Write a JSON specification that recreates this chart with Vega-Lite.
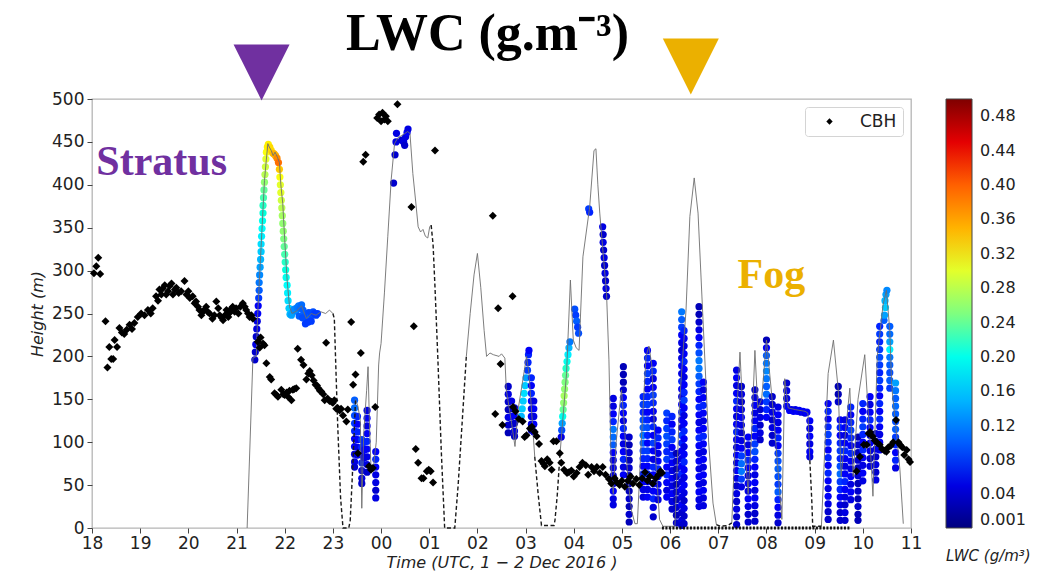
{
  "$schema": "https://vega.github.io/schema/vega-lite/v6.json",
  "width": 819,
  "height": 429,
  "autosize": "none",
  "padding": {"left": 92, "top": 99, "right": 138, "bottom": 43},
  "background": "white",
  "title": {
    "text": "LWC (g.m⁻³)",
    "font": "Liberation Serif",
    "fontSize": 52,
    "fontWeight": "bold",
    "color": "#000000",
    "frame": "group",
    "anchor": "middle",
    "baseline": "alphabetic",
    "dx": -14,
    "offset": -64
  },
  "config": {
    "font": "DejaVu Sans",
    "view": {"stroke": "#b5b5b5", "strokeWidth": 1.3},
    "axis": {"grid": false, "domain": false, "tickColor": "#444444", "labelColor": "#222222", "titleColor": "#222222", "labelFont": "DejaVu Sans", "titleFont": "DejaVu Sans"}
  },
  "datasets": {
    "cbh": [
      {"t":18.04,"h":297},{"t":18.09,"h":305},{"t":18.13,"h":315},{"t":18.17,"h":296},{"t":18.28,"h":241},{"t":18.32,"h":187},{"t":18.36,"h":211},{"t":18.4,"h":197},{"t":18.44,"h":197},{"t":18.47,"h":219},{"t":18.52,"h":211},{"t":18.57,"h":233},{"t":18.62,"h":228},{"t":18.67,"h":226},{"t":18.72,"h":231},{"t":18.78,"h":237},{"t":18.83,"h":232},{"t":18.88,"h":239},{"t":18.95,"h":246},{"t":19.02,"h":250},{"t":19.09,"h":248},{"t":19.16,"h":254},{"t":19.22,"h":250},{"t":19.26,"h":256},{"t":19.33,"h":270},{"t":19.37,"h":265},{"t":19.4,"h":278},{"t":19.44,"h":272},{"t":19.47,"h":279},{"t":19.51,"h":283},{"t":19.54,"h":272},{"t":19.58,"h":276},{"t":19.61,"h":282},{"t":19.65,"h":285},{"t":19.68,"h":272},{"t":19.72,"h":278},{"t":19.75,"h":280},{"t":19.8,"h":274},{"t":19.85,"h":276},{"t":19.92,"h":288},{"t":19.96,"h":272},{"t":20.0,"h":276},{"t":20.03,"h":268},{"t":20.09,"h":270},{"t":20.13,"h":262},{"t":20.16,"h":264},{"t":20.2,"h":258},{"t":20.23,"h":254},{"t":20.27,"h":248},{"t":20.3,"h":252},{"t":20.33,"h":254},{"t":20.37,"h":258},{"t":20.4,"h":252},{"t":20.44,"h":250},{"t":20.5,"h":244},{"t":20.54,"h":248},{"t":20.58,"h":264},{"t":20.62,"h":256},{"t":20.65,"h":248},{"t":20.69,"h":245},{"t":20.72,"h":242},{"t":20.76,"h":248},{"t":20.79,"h":254},{"t":20.83,"h":246},{"t":20.86,"h":251},{"t":20.9,"h":256},{"t":20.92,"h":258},{"t":20.96,"h":252},{"t":20.99,"h":256},{"t":21.04,"h":250},{"t":21.08,"h":258},{"t":21.13,"h":262},{"t":21.17,"h":258},{"t":21.2,"h":254},{"t":21.24,"h":250},{"t":21.27,"h":246},{"t":21.31,"h":248},{"t":21.34,"h":244},
      {"t":21.44,"h":217},{"t":21.48,"h":210},{"t":21.5,"h":222},{"t":21.55,"h":215},{"t":21.58,"h":213},{"t":21.62,"h":192},{"t":21.69,"h":176},{"t":21.72,"h":173},{"t":21.79,"h":157},{"t":21.83,"h":155},{"t":21.86,"h":153},{"t":21.93,"h":161},{"t":21.97,"h":156},{"t":22.0,"h":155},{"t":22.04,"h":158},{"t":22.07,"h":153},{"t":22.1,"h":160},{"t":22.14,"h":149},{"t":22.17,"h":161},{"t":22.2,"h":162},{"t":22.24,"h":163},{"t":22.27,"h":209},{"t":22.34,"h":196},{"t":22.39,"h":190},{"t":22.45,"h":173},{"t":22.49,"h":180},{"t":22.52,"h":183},{"t":22.56,"h":178},{"t":22.6,"h":172},{"t":22.64,"h":167},{"t":22.67,"h":166},{"t":22.7,"h":163},{"t":22.73,"h":160},{"t":22.76,"h":159},{"t":22.8,"h":156},{"t":22.83,"h":149},{"t":22.86,"h":216},{"t":22.89,"h":151},{"t":22.93,"h":148},{"t":22.97,"h":147},{"t":23.0,"h":146},{"t":23.03,"h":149},{"t":23.07,"h":139},{"t":23.1,"h":140},{"t":23.14,"h":137},{"t":23.17,"h":139},{"t":23.21,"h":131},{"t":23.28,"h":124},{"t":23.31,"h":138},
      {"t":23.38,"h":240},{"t":23.42,"h":167},{"t":23.47,"h":179},{"t":23.52,"h":87},{"t":23.58,"h":204},{"t":23.63,"h":427},{"t":23.68,"h":435},{"t":23.75,"h":72},{"t":23.79,"h":68},{"t":23.83,"h":70},{"t":23.88,"h":141},{"t":23.92,"h":478},{"t":23.96,"h":482},{"t":24.0,"h":474},{"t":24.03,"h":484},{"t":24.07,"h":476},{"t":24.1,"h":480},{"t":24.14,"h":474},{"t":24.34,"h":494},{"t":24.63,"h":374},{"t":24.68,"h":235},{"t":24.72,"h":92},{"t":24.77,"h":76},{"t":24.84,"h":58},{"t":24.88,"h":58},{"t":24.95,"h":66},{"t":24.99,"h":68},{"t":25.03,"h":66},{"t":25.08,"h":53},{"t":25.12,"h":440},
      {"t":26.32,"h":364},{"t":26.37,"h":133},{"t":26.43,"h":256},{"t":26.48,"h":191},{"t":26.52,"h":120},{"t":26.73,"h":270},{"t":26.74,"h":141},{"t":26.79,"h":136},{"t":26.86,"h":127},{"t":26.94,"h":124},{"t":26.98,"h":106},{"t":27.02,"h":108},{"t":27.09,"h":116},{"t":27.13,"h":118},{"t":27.19,"h":112},{"t":27.23,"h":107},{"t":27.28,"h":98},{"t":27.33,"h":78},{"t":27.37,"h":75},{"t":27.4,"h":72},{"t":27.45,"h":80},{"t":27.5,"h":76},{"t":27.54,"h":68},{"t":27.58,"h":101},{"t":27.64,"h":101},{"t":27.71,"h":87},{"t":27.74,"h":76},{"t":27.8,"h":68},{"t":27.86,"h":64},{"t":27.9,"h":65},{"t":27.95,"h":67},{"t":28.0,"h":60},{"t":28.06,"h":64},{"t":28.12,"h":71},{"t":28.18,"h":76},{"t":28.25,"h":73},{"t":28.3,"h":62},{"t":28.37,"h":71},{"t":28.42,"h":66},{"t":28.48,"h":71},{"t":28.54,"h":64},{"t":28.6,"h":71},{"t":28.66,"h":62},{"t":28.73,"h":57},{"t":28.78,"h":52},{"t":28.85,"h":58},{"t":28.9,"h":53},{"t":28.95,"h":50},{"t":29.0,"h":55},{"t":29.06,"h":48},{"t":29.12,"h":55},{"t":29.18,"h":60},{"t":29.23,"h":52},{"t":29.3,"h":57},{"t":29.36,"h":50},{"t":29.42,"h":58},{"t":29.48,"h":65},{"t":29.53,"h":55},{"t":29.58,"h":60},{"t":29.64,"h":52},{"t":29.7,"h":58},{"t":29.76,"h":62},{"t":29.8,"h":66},{"t":29.83,"h":64},
      {"t":33.87,"h":66},{"t":33.94,"h":83},{"t":34.02,"h":97},{"t":34.08,"h":97},{"t":34.12,"h":110},{"t":34.15,"h":112},{"t":34.2,"h":107},{"t":34.25,"h":102},{"t":34.3,"h":99},{"t":34.35,"h":97},{"t":34.4,"h":92},{"t":34.45,"h":90},{"t":34.49,"h":89},{"t":34.53,"h":94},{"t":34.58,"h":96},{"t":34.63,"h":100},{"t":34.69,"h":126},{"t":34.74,"h":100},{"t":34.77,"h":97},{"t":34.82,"h":94},{"t":34.86,"h":85},{"t":34.91,"h":91},{"t":34.95,"h":80},{"t":34.98,"h":77}
    ],
    "topSolid": [
      {"s":1,"t":21.22,"h":0},{"s":1,"t":21.34,"h":198},{"s":1,"t":21.41,"h":200},{"s":1,"t":21.44,"h":250},{"s":1,"t":21.51,"h":328},{"s":1,"t":21.58,"h":405},{"s":1,"t":21.62,"h":430},{"s":1,"t":21.65,"h":448},{"s":1,"t":21.68,"h":444},{"s":1,"t":21.72,"h":440},{"s":1,"t":21.76,"h":434},{"s":1,"t":21.8,"h":438},{"s":1,"t":21.85,"h":432},{"s":1,"t":21.89,"h":426},{"s":1,"t":21.92,"h":400},{"s":1,"t":21.96,"h":378},{"s":1,"t":22.0,"h":336},{"s":1,"t":22.05,"h":289},{"s":1,"t":22.1,"h":258},{"s":1,"t":22.15,"h":250},{"s":1,"t":22.25,"h":253},{"s":1,"t":22.35,"h":259},{"s":1,"t":22.45,"h":244},{"s":1,"t":22.55,"h":250},{"s":1,"t":22.65,"h":248},{"s":1,"t":22.75,"h":252},{"s":1,"t":22.85,"h":250},{"s":1,"t":22.93,"h":254},{"s":1,"t":23.0,"h":250},
      {"s":3,"t":23.47,"h":150},{"s":3,"t":23.52,"h":142},{"s":3,"t":23.57,"h":125},{"s":3,"t":23.6,"h":23},{"s":3,"t":23.64,"h":110},{"s":3,"t":23.7,"h":160},{"s":3,"t":23.73,"h":188},{"s":3,"t":23.76,"h":120},{"s":3,"t":23.79,"h":72},{"s":3,"t":23.84,"h":70},{"s":3,"t":23.9,"h":100},{"s":3,"t":23.95,"h":190},{"s":3,"t":23.97,"h":204},{"s":3,"t":24.0,"h":215},{"s":3,"t":24.07,"h":274},{"s":3,"t":24.14,"h":340},{"s":3,"t":24.21,"h":406},{"s":3,"t":24.28,"h":448},{"s":3,"t":24.35,"h":455},{"s":3,"t":24.45,"h":458},{"s":3,"t":24.55,"h":462},{"s":3,"t":24.6,"h":460},{"s":3,"t":24.66,"h":413},{"s":3,"t":24.72,"h":380},{"s":3,"t":24.77,"h":351},{"s":3,"t":24.82,"h":345},{"s":3,"t":24.87,"h":348},{"s":3,"t":24.92,"h":340},{"s":3,"t":24.97,"h":338},{"s":3,"t":25.01,"h":351},{"s":3,"t":25.04,"h":353},
      {"s":5,"t":25.77,"h":200},{"s":5,"t":25.85,"h":250},{"s":5,"t":25.93,"h":295},{"s":5,"t":26.0,"h":320},{"s":5,"t":26.07,"h":280},{"s":5,"t":26.14,"h":230},{"s":5,"t":26.19,"h":200},{"s":5,"t":26.26,"h":204},{"s":5,"t":26.33,"h":202},{"s":5,"t":26.45,"h":200},{"s":5,"t":26.5,"h":203},{"s":5,"t":26.57,"h":198},{"s":5,"t":26.6,"h":161},{"s":5,"t":26.71,"h":122},{"s":5,"t":26.78,"h":95},{"s":5,"t":26.85,"h":140},{"s":5,"t":26.95,"h":175},{"s":5,"t":27.02,"h":200},{"s":5,"t":27.07,"h":180},{"s":5,"t":27.12,"h":140},{"s":5,"t":27.19,"h":83},
      {"s":7,"t":27.71,"h":83},{"s":7,"t":27.85,"h":180},{"s":7,"t":27.93,"h":289},{"s":7,"t":27.99,"h":219},{"s":7,"t":28.05,"h":210},{"s":7,"t":28.11,"h":207},{"s":7,"t":28.19,"h":316},{"s":7,"t":28.33,"h":374},{"s":7,"t":28.42,"h":440},{"s":7,"t":28.46,"h":442},{"s":7,"t":28.5,"h":400},{"s":7,"t":28.54,"h":367},{"s":7,"t":28.61,"h":320},{"s":7,"t":28.68,"h":274},{"s":7,"t":28.73,"h":196},{"s":7,"t":28.78,"h":64},{"s":7,"t":28.82,"h":40},{"s":7,"t":28.88,"h":100},{"s":7,"t":28.95,"h":140},{"s":7,"t":28.99,"h":161},{"s":7,"t":29.05,"h":120},{"s":7,"t":29.12,"h":60},{"s":7,"t":29.2,"h":20},{"s":7,"t":29.27,"h":5},{"s":7,"t":29.32,"h":5},{"s":7,"t":29.4,"h":100},{"s":7,"t":29.5,"h":200},{"s":7,"t":29.56,"h":212},{"s":7,"t":29.62,"h":190},{"s":7,"t":29.7,"h":80},{"s":7,"t":29.78,"h":10},{"s":7,"t":29.85,"h":2},{"s":7,"t":30.1,"h":2},{"s":7,"t":30.2,"h":150},{"s":7,"t":30.33,"h":254},{"s":7,"t":30.41,"h":363},{"s":7,"t":30.5,"h":408},{"s":7,"t":30.58,"h":367},{"s":7,"t":30.67,"h":258},{"s":7,"t":30.8,"h":100},{"s":7,"t":30.89,"h":29},{"s":7,"t":30.96,"h":4},
      {"s":9,"t":31.28,"h":6},{"s":9,"t":31.35,"h":100},{"s":9,"t":31.45,"h":205},{"s":9,"t":31.52,"h":120},{"s":9,"t":31.62,"h":40},{"s":9,"t":31.7,"h":120},{"s":9,"t":31.76,"h":207},{"s":9,"t":31.82,"h":140},{"s":9,"t":31.9,"h":150},{"s":9,"t":32.0,"h":219},{"s":9,"t":32.05,"h":190},{"s":9,"t":32.15,"h":130},{"s":9,"t":32.25,"h":60},{"s":9,"t":32.32,"h":10},{"s":9,"t":32.38,"h":174},{"s":9,"t":32.45,"h":140},{"s":9,"t":32.6,"h":138},{"s":9,"t":32.8,"h":136},{"s":9,"t":32.86,"h":134},{"s":9,"t":32.9,"h":79},
      {"s":11,"t":33.14,"h":2},{"s":11,"t":33.28,"h":180},{"s":11,"t":33.39,"h":219},{"s":11,"t":33.49,"h":161},{"s":11,"t":33.55,"h":60},{"s":11,"t":33.62,"h":100},{"s":11,"t":33.73,"h":163},{"s":11,"t":33.8,"h":60},{"s":11,"t":33.9,"h":150},{"s":11,"t":34.04,"h":202},{"s":11,"t":34.15,"h":100},{"s":11,"t":34.21,"h":37},{"s":11,"t":34.3,"h":200},{"s":11,"t":34.42,"h":260},{"s":11,"t":34.49,"h":277},{"s":11,"t":34.56,"h":230},{"s":11,"t":34.6,"h":165},{"s":11,"t":34.7,"h":110},{"s":11,"t":34.77,"h":68},{"s":11,"t":34.84,"h":5}
    ],
    "topDash": [
      {"s":2,"t":23.0,"h":250},{"s":2,"t":23.03,"h":244},{"s":2,"t":23.06,"h":190},{"s":2,"t":23.1,"h":120},{"s":2,"t":23.16,"h":35},{"s":2,"t":23.21,"h":0},{"s":2,"t":23.33,"h":0},{"s":2,"t":23.36,"h":9},{"s":2,"t":23.42,"h":80},{"s":2,"t":23.47,"h":150},
      {"s":4,"t":25.04,"h":353},{"s":4,"t":25.08,"h":330},{"s":4,"t":25.12,"h":280},{"s":4,"t":25.18,"h":196},{"s":4,"t":25.25,"h":90},{"s":4,"t":25.32,"h":0},{"s":4,"t":25.53,"h":0},{"s":4,"t":25.6,"h":50},{"s":4,"t":25.68,"h":120},{"s":4,"t":25.77,"h":200},
      {"s":6,"t":27.19,"h":83},{"s":6,"t":27.26,"h":40},{"s":6,"t":27.33,"h":3},{"s":6,"t":27.59,"h":3},{"s":6,"t":27.61,"h":9},{"s":6,"t":27.66,"h":40},{"s":6,"t":27.71,"h":83},
      {"s":8,"t":30.96,"h":4},{"s":8,"t":31.05,"h":2},{"s":8,"t":31.2,"h":3},{"s":8,"t":31.28,"h":6},
      {"s":10,"t":32.9,"h":79},{"s":10,"t":32.94,"h":33},{"s":10,"t":32.96,"h":2},{"s":10,"t":33.14,"h":2}
    ],
    "ground": [
      {"t":29.83,"h":0},{"t":33.75,"h":0}
    ],
    "lwc": [
      {"t":21.38,"h":196,"v":0.04},{"t":21.39,"h":205,"v":0.04},{"t":21.4,"h":214,"v":0.05},{"t":21.41,"h":223,"v":0.04},{"t":21.42,"h":232,"v":0.05},{"t":21.43,"h":241,"v":0.05},{"t":21.44,"h":250,"v":0.06},{"t":21.45,"h":259,"v":0.06},{"t":21.46,"h":268,"v":0.08},{"t":21.47,"h":277,"v":0.1},{"t":21.47,"h":286,"v":0.12},{"t":21.48,"h":295,"v":0.13},{"t":21.49,"h":304,"v":0.14},{"t":21.5,"h":313,"v":0.15},{"t":21.51,"h":322,"v":0.16},{"t":21.51,"h":331,"v":0.17},{"t":21.52,"h":340,"v":0.18},{"t":21.53,"h":349,"v":0.19},{"t":21.54,"h":358,"v":0.2},{"t":21.55,"h":367,"v":0.21},{"t":21.55,"h":376,"v":0.22},{"t":21.56,"h":385,"v":0.23},{"t":21.57,"h":394,"v":0.24},{"t":21.58,"h":403,"v":0.26},{"t":21.59,"h":412,"v":0.28},{"t":21.6,"h":421,"v":0.29},{"t":21.61,"h":430,"v":0.3},{"t":21.62,"h":438,"v":0.31},{"t":21.64,"h":444,"v":0.32},{"t":21.66,"h":447,"v":0.32},
      {"t":21.69,"h":444,"v":0.33},{"t":21.72,"h":440,"v":0.33},{"t":21.75,"h":437,"v":0.34},{"t":21.78,"h":436,"v":0.35},{"t":21.81,"h":434,"v":0.35},{"t":21.84,"h":431,"v":0.37},{"t":21.87,"h":426,"v":0.39},{"t":21.89,"h":418,"v":0.34},{"t":21.9,"h":409,"v":0.31},{"t":21.91,"h":400,"v":0.3},{"t":21.92,"h":391,"v":0.3},{"t":21.93,"h":382,"v":0.29},{"t":21.94,"h":373,"v":0.28},{"t":21.95,"h":364,"v":0.27},{"t":21.96,"h":355,"v":0.26},{"t":21.97,"h":346,"v":0.26},{"t":21.98,"h":337,"v":0.25},{"t":21.99,"h":328,"v":0.24},{"t":22.0,"h":319,"v":0.23},{"t":22.01,"h":310,"v":0.22},{"t":22.02,"h":301,"v":0.21},{"t":22.03,"h":292,"v":0.2},{"t":22.05,"h":283,"v":0.19},{"t":22.06,"h":274,"v":0.18},{"t":22.07,"h":265,"v":0.17},{"t":22.09,"h":256,"v":0.16},{"t":22.11,"h":249,"v":0.15},
      {"t":22.14,"h":248,"v":0.14},{"t":22.17,"h":252,"v":0.14},{"t":22.2,"h":255,"v":0.13},{"t":22.23,"h":253,"v":0.13},{"t":22.26,"h":257,"v":0.12},{"t":22.29,"h":259,"v":0.12},{"t":22.32,"h":256,"v":0.11},{"t":22.35,"h":260,"v":0.11},{"t":22.38,"h":254,"v":0.1},{"t":22.41,"h":248,"v":0.1},{"t":22.44,"h":243,"v":0.09},{"t":22.47,"h":246,"v":0.09},{"t":22.5,"h":251,"v":0.09},{"t":22.53,"h":246,"v":0.1},{"t":22.56,"h":249,"v":0.09},{"t":22.59,"h":252,"v":0.09},{"t":22.62,"h":250,"v":0.08},{"t":22.65,"h":248,"v":0.08},{"t":22.68,"h":250,"v":0.08},{"t":22.3,"h":247,"v":0.1},{"t":22.37,"h":245,"v":0.09},{"t":22.43,"h":238,"v":0.08},{"t":22.49,"h":240,"v":0.08},{"t":22.55,"h":241,"v":0.08},
      {"t":23.45,"h":149,"v":0.1},{"t":23.45,"h":140,"v":0.11},{"t":23.45,"h":131,"v":0.09},{"t":23.45,"h":122,"v":0.08},{"t":23.45,"h":113,"v":0.07},{"t":23.45,"h":104,"v":0.06},{"t":23.45,"h":95,"v":0.06},{"t":23.45,"h":86,"v":0.05},{"t":23.45,"h":77,"v":0.05},{"t":23.45,"h":71,"v":0.04},
      {"t":23.51,"h":130,"v":0.07},{"t":23.51,"h":121,"v":0.06},{"t":23.51,"h":112,"v":0.07},{"t":23.51,"h":103,"v":0.06},{"t":23.51,"h":94,"v":0.05},{"t":23.51,"h":85,"v":0.05},
      {"t":23.6,"h":103,"v":0.08},{"t":23.6,"h":94,"v":0.07},{"t":23.6,"h":85,"v":0.06},{"t":23.6,"h":76,"v":0.07},{"t":23.6,"h":67,"v":0.05},{"t":23.6,"h":58,"v":0.05},{"t":23.6,"h":52,"v":0.04},
      {"t":23.65,"h":100,"v":0.07},{"t":23.65,"h":91,"v":0.06},{"t":23.65,"h":82,"v":0.05},
      {"t":23.71,"h":137,"v":0.05},{"t":23.71,"h":128,"v":0.06},{"t":23.71,"h":119,"v":0.05},{"t":23.71,"h":110,"v":0.06},{"t":23.71,"h":101,"v":0.07},{"t":23.71,"h":92,"v":0.06},{"t":23.71,"h":83,"v":0.05},{"t":23.71,"h":74,"v":0.05},{"t":23.71,"h":65,"v":0.04},
      {"t":23.89,"h":89,"v":0.06},{"t":23.89,"h":80,"v":0.07},{"t":23.89,"h":71,"v":0.06},{"t":23.89,"h":62,"v":0.05},{"t":23.89,"h":53,"v":0.05},{"t":23.89,"h":44,"v":0.04},{"t":23.89,"h":35,"v":0.05},
      {"t":24.26,"h":402,"v":0.04},{"t":24.29,"h":435,"v":0.04},{"t":24.31,"h":450,"v":0.05},{"t":24.32,"h":460,"v":0.05},{"t":24.43,"h":452,"v":0.04},{"t":24.47,"h":450,"v":0.05},{"t":24.49,"h":446,"v":0.04},{"t":24.51,"h":456,"v":0.05},{"t":24.54,"h":461,"v":0.06},{"t":24.56,"h":465,"v":0.05},
      {"t":26.64,"h":165,"v":0.04},{"t":26.64,"h":156,"v":0.05},{"t":26.64,"h":147,"v":0.04},{"t":26.64,"h":138,"v":0.03},{"t":26.64,"h":129,"v":0.05},{"t":26.64,"h":120,"v":0.04},{"t":26.64,"h":111,"v":0.03},
      {"t":26.71,"h":148,"v":0.05},{"t":26.71,"h":139,"v":0.04},{"t":26.71,"h":130,"v":0.06},{"t":26.71,"h":121,"v":0.04},
      {"t":26.77,"h":140,"v":0.05},{"t":26.77,"h":131,"v":0.06},{"t":26.77,"h":122,"v":0.04},{"t":26.77,"h":113,"v":0.05},{"t":26.77,"h":107,"v":0.04},
      {"t":26.91,"h":130,"v":0.15},{"t":26.93,"h":139,"v":0.16},{"t":26.95,"h":148,"v":0.16},{"t":26.97,"h":157,"v":0.17},{"t":26.99,"h":166,"v":0.16},{"t":27.01,"h":175,"v":0.14},{"t":27.04,"h":184,"v":0.08},{"t":27.05,"h":193,"v":0.07},{"t":27.06,"h":202,"v":0.07},{"t":27.07,"h":207,"v":0.06},
      {"t":27.12,"h":175,"v":0.07},{"t":27.12,"h":166,"v":0.06},{"t":27.12,"h":157,"v":0.07},{"t":27.12,"h":148,"v":0.06},{"t":27.12,"h":139,"v":0.05},{"t":27.12,"h":130,"v":0.06},{"t":27.12,"h":121,"v":0.05},{"t":27.12,"h":114,"v":0.04},
      {"t":27.17,"h":148,"v":0.05},{"t":27.17,"h":139,"v":0.06},{"t":27.17,"h":130,"v":0.05},{"t":27.17,"h":121,"v":0.06},{"t":27.17,"h":112,"v":0.05},
      {"t":27.74,"h":106,"v":0.05},{"t":27.75,"h":114,"v":0.09},{"t":27.76,"h":122,"v":0.14},{"t":27.77,"h":130,"v":0.2},{"t":27.78,"h":138,"v":0.24},{"t":27.79,"h":146,"v":0.26},{"t":27.8,"h":154,"v":0.27},{"t":27.81,"h":162,"v":0.26},{"t":27.82,"h":170,"v":0.25},{"t":27.83,"h":178,"v":0.24},{"t":27.84,"h":186,"v":0.22},{"t":27.86,"h":194,"v":0.2},{"t":27.88,"h":202,"v":0.18},{"t":27.9,"h":210,"v":0.15},{"t":27.92,"h":217,"v":0.12},
      {"t":28.02,"h":255,"v":0.09},{"t":28.04,"h":248,"v":0.08},{"t":28.06,"h":241,"v":0.1},{"t":28.08,"h":234,"v":0.08},{"t":28.1,"h":227,"v":0.09},
      {"t":28.31,"h":372,"v":0.08},{"t":28.33,"h":368,"v":0.07},
      {"t":28.6,"h":351,"v":0.05},{"t":28.61,"h":342,"v":0.04},{"t":28.61,"h":333,"v":0.05},{"t":28.62,"h":324,"v":0.04},{"t":28.63,"h":315,"v":0.05},{"t":28.64,"h":306,"v":0.04},{"t":28.65,"h":297,"v":0.05},{"t":28.66,"h":288,"v":0.04},{"t":28.67,"h":279,"v":0.05},{"t":28.68,"h":270,"v":0.04},
      {"t":28.82,"h":151,"v":0.05},{"t":28.82,"h":142,"v":0.05},{"t":28.82,"h":133,"v":0.06},{"t":28.82,"h":124,"v":0.07},{"t":28.82,"h":115,"v":0.12},{"t":28.82,"h":106,"v":0.11},{"t":28.82,"h":97,"v":0.1},{"t":28.82,"h":88,"v":0.06},{"t":28.82,"h":79,"v":0.05},{"t":28.82,"h":70,"v":0.05},{"t":28.82,"h":61,"v":0.04},{"t":28.82,"h":52,"v":0.05},{"t":28.82,"h":43,"v":0.06},{"t":28.82,"h":34,"v":0.05},{"t":28.82,"h":27,"v":0.05},
      {"t":29.03,"h":188,"v":0.03},{"t":29.03,"h":179,"v":0.03},{"t":29.03,"h":170,"v":0.03},{"t":29.03,"h":161,"v":0.04},{"t":29.03,"h":152,"v":0.06},{"t":29.03,"h":143,"v":0.07},{"t":29.03,"h":134,"v":0.06},{"t":29.03,"h":125,"v":0.05},{"t":29.03,"h":116,"v":0.07},{"t":29.03,"h":107,"v":0.06},{"t":29.03,"h":98,"v":0.05},{"t":29.03,"h":89,"v":0.06},{"t":29.03,"h":80,"v":0.07},{"t":29.03,"h":71,"v":0.05},{"t":29.03,"h":62,"v":0.06},
      {"t":29.15,"h":106,"v":0.04},{"t":29.15,"h":97,"v":0.03},{"t":29.15,"h":88,"v":0.04},{"t":29.15,"h":79,"v":0.03},{"t":29.15,"h":70,"v":0.04},{"t":29.15,"h":61,"v":0.03},{"t":29.15,"h":52,"v":0.04},{"t":29.15,"h":43,"v":0.03},{"t":29.15,"h":34,"v":0.04},{"t":29.15,"h":25,"v":0.03},{"t":29.15,"h":16,"v":0.04},{"t":29.15,"h":7,"v":0.03},
      {"t":29.44,"h":153,"v":0.07},{"t":29.44,"h":144,"v":0.08},{"t":29.44,"h":135,"v":0.07},{"t":29.44,"h":126,"v":0.09},{"t":29.44,"h":117,"v":0.1},{"t":29.44,"h":108,"v":0.12},{"t":29.44,"h":99,"v":0.1},{"t":29.44,"h":90,"v":0.08},{"t":29.44,"h":81,"v":0.07},{"t":29.44,"h":72,"v":0.06},{"t":29.44,"h":63,"v":0.07},{"t":29.44,"h":54,"v":0.06},{"t":29.44,"h":45,"v":0.05},{"t":29.44,"h":36,"v":0.05},
      {"t":29.53,"h":207,"v":0.06},{"t":29.53,"h":198,"v":0.07},{"t":29.53,"h":189,"v":0.06},{"t":29.53,"h":180,"v":0.08},{"t":29.53,"h":171,"v":0.07},{"t":29.53,"h":162,"v":0.06},{"t":29.53,"h":153,"v":0.07},{"t":29.53,"h":144,"v":0.08},{"t":29.53,"h":135,"v":0.06},{"t":29.53,"h":126,"v":0.07},{"t":29.53,"h":117,"v":0.09},{"t":29.53,"h":108,"v":0.07},{"t":29.53,"h":99,"v":0.06},{"t":29.53,"h":90,"v":0.08},{"t":29.53,"h":81,"v":0.07},{"t":29.53,"h":72,"v":0.06},{"t":29.53,"h":63,"v":0.07},{"t":29.53,"h":54,"v":0.06},{"t":29.53,"h":45,"v":0.05},{"t":29.53,"h":36,"v":0.06},
      {"t":29.65,"h":192,"v":0.06},{"t":29.65,"h":183,"v":0.07},{"t":29.65,"h":174,"v":0.05},{"t":29.65,"h":164,"v":0.06},{"t":29.65,"h":155,"v":0.08},{"t":29.65,"h":146,"v":0.07},{"t":29.65,"h":136,"v":0.06},{"t":29.65,"h":127,"v":0.05},{"t":29.65,"h":118,"v":0.07},{"t":29.65,"h":108,"v":0.06},{"t":29.65,"h":99,"v":0.08},{"t":29.65,"h":90,"v":0.06},{"t":29.65,"h":80,"v":0.05},{"t":29.65,"h":71,"v":0.07},{"t":29.65,"h":62,"v":0.06},{"t":29.65,"h":52,"v":0.05},{"t":29.65,"h":43,"v":0.06},{"t":29.65,"h":34,"v":0.07},{"t":29.65,"h":24,"v":0.05},{"t":29.65,"h":13,"v":0.04},
      {"t":29.75,"h":114,"v":0.06},{"t":29.75,"h":105,"v":0.07},{"t":29.75,"h":96,"v":0.06},{"t":29.75,"h":87,"v":0.05},{"t":29.75,"h":78,"v":0.06},{"t":29.75,"h":69,"v":0.07},{"t":29.75,"h":60,"v":0.06},{"t":29.75,"h":51,"v":0.05},{"t":29.75,"h":42,"v":0.06},{"t":29.75,"h":33,"v":0.05},
      {"t":29.93,"h":134,"v":0.08},{"t":29.93,"h":125,"v":0.07},{"t":29.93,"h":116,"v":0.08},{"t":29.93,"h":107,"v":0.09},{"t":29.93,"h":98,"v":0.08},{"t":29.93,"h":89,"v":0.07},{"t":29.93,"h":80,"v":0.08},{"t":29.93,"h":71,"v":0.06},{"t":29.93,"h":62,"v":0.07},{"t":29.93,"h":53,"v":0.06},{"t":29.93,"h":44,"v":0.05},{"t":29.93,"h":36,"v":0.06},
      {"t":30.04,"h":130,"v":0.07},{"t":30.04,"h":121,"v":0.06},{"t":30.04,"h":112,"v":0.07},{"t":30.04,"h":103,"v":0.08},{"t":30.04,"h":94,"v":0.06},{"t":30.04,"h":85,"v":0.07},{"t":30.04,"h":76,"v":0.06},{"t":30.04,"h":67,"v":0.05},{"t":30.04,"h":58,"v":0.06},{"t":30.04,"h":49,"v":0.05},{"t":30.04,"h":40,"v":0.06},{"t":30.04,"h":31,"v":0.05},{"t":30.04,"h":22,"v":0.04},
      {"t":30.13,"h":87,"v":0.03},{"t":30.13,"h":78,"v":0.04},{"t":30.13,"h":69,"v":0.03},{"t":30.13,"h":60,"v":0.04},{"t":30.13,"h":51,"v":0.03},{"t":30.13,"h":42,"v":0.04},{"t":30.13,"h":33,"v":0.03},{"t":30.13,"h":24,"v":0.04},{"t":30.13,"h":15,"v":0.03},{"t":30.13,"h":6,"v":0.04},
      {"t":30.24,"h":252,"v":0.12},{"t":30.24,"h":243,"v":0.1},{"t":30.24,"h":234,"v":0.08},{"t":30.24,"h":225,"v":0.06},{"t":30.24,"h":216,"v":0.05},{"t":30.24,"h":207,"v":0.04},{"t":30.24,"h":198,"v":0.05},{"t":30.24,"h":189,"v":0.06},{"t":30.24,"h":180,"v":0.05},{"t":30.24,"h":171,"v":0.07},{"t":30.24,"h":162,"v":0.06},{"t":30.24,"h":153,"v":0.05},{"t":30.24,"h":144,"v":0.06},{"t":30.24,"h":135,"v":0.07},{"t":30.24,"h":126,"v":0.06},{"t":30.24,"h":117,"v":0.05},{"t":30.24,"h":108,"v":0.08},{"t":30.24,"h":99,"v":0.07},{"t":30.24,"h":90,"v":0.06},{"t":30.24,"h":81,"v":0.05},{"t":30.24,"h":72,"v":0.06},{"t":30.24,"h":63,"v":0.07},{"t":30.24,"h":54,"v":0.05},{"t":30.24,"h":45,"v":0.06},{"t":30.24,"h":36,"v":0.05},{"t":30.24,"h":27,"v":0.06},{"t":30.24,"h":18,"v":0.04},{"t":30.24,"h":9,"v":0.05},{"t":30.24,"h":3,"v":0.04},
      {"t":30.29,"h":230,"v":0.07},{"t":30.29,"h":221,"v":0.06},{"t":30.29,"h":212,"v":0.05},{"t":30.29,"h":203,"v":0.06},{"t":30.29,"h":194,"v":0.07},{"t":30.29,"h":185,"v":0.06},{"t":30.29,"h":176,"v":0.05},{"t":30.29,"h":167,"v":0.06},{"t":30.29,"h":158,"v":0.07},{"t":30.29,"h":149,"v":0.08},{"t":30.29,"h":140,"v":0.06},{"t":30.29,"h":131,"v":0.05},{"t":30.29,"h":122,"v":0.06},{"t":30.29,"h":113,"v":0.07},{"t":30.29,"h":104,"v":0.06},{"t":30.29,"h":95,"v":0.05},{"t":30.29,"h":86,"v":0.06},{"t":30.29,"h":77,"v":0.07},{"t":30.29,"h":68,"v":0.06},{"t":30.29,"h":59,"v":0.05},{"t":30.29,"h":50,"v":0.06},{"t":30.29,"h":41,"v":0.05},{"t":30.29,"h":32,"v":0.04},{"t":30.29,"h":23,"v":0.05},{"t":30.29,"h":14,"v":0.04},{"t":30.29,"h":5,"v":0.04},
      {"t":30.6,"h":258,"v":0.03},{"t":30.6,"h":249,"v":0.03},{"t":30.6,"h":240,"v":0.04},{"t":30.6,"h":231,"v":0.05},{"t":30.6,"h":222,"v":0.06},{"t":30.6,"h":213,"v":0.07},{"t":30.6,"h":204,"v":0.09},{"t":30.6,"h":195,"v":0.12},{"t":30.6,"h":186,"v":0.12},{"t":30.6,"h":177,"v":0.1},{"t":30.6,"h":168,"v":0.08},{"t":30.6,"h":159,"v":0.07},{"t":30.6,"h":150,"v":0.06},{"t":30.6,"h":141,"v":0.07},{"t":30.6,"h":132,"v":0.06},{"t":30.6,"h":123,"v":0.05},{"t":30.6,"h":114,"v":0.06},{"t":30.6,"h":105,"v":0.07},{"t":30.6,"h":96,"v":0.06},{"t":30.6,"h":87,"v":0.05},{"t":30.6,"h":78,"v":0.06},{"t":30.6,"h":69,"v":0.05},{"t":30.6,"h":60,"v":0.06},{"t":30.6,"h":51,"v":0.05},{"t":30.6,"h":42,"v":0.06},{"t":30.6,"h":33,"v":0.05},{"t":30.6,"h":25,"v":0.05},
      {"t":30.69,"h":170,"v":0.06},{"t":30.69,"h":161,"v":0.05},{"t":30.69,"h":152,"v":0.06},{"t":30.69,"h":143,"v":0.07},{"t":30.69,"h":134,"v":0.06},{"t":30.69,"h":125,"v":0.05},{"t":30.69,"h":116,"v":0.06},{"t":30.69,"h":107,"v":0.07},{"t":30.69,"h":98,"v":0.06},{"t":30.69,"h":89,"v":0.05},{"t":30.69,"h":80,"v":0.06},{"t":30.69,"h":71,"v":0.05},{"t":30.69,"h":62,"v":0.06},{"t":30.69,"h":53,"v":0.05},{"t":30.69,"h":44,"v":0.06},{"t":30.69,"h":35,"v":0.05},{"t":30.69,"h":26,"v":0.05},
      {"t":31.38,"h":184,"v":0.05},{"t":31.38,"h":175,"v":0.06},{"t":31.38,"h":166,"v":0.05},{"t":31.38,"h":157,"v":0.06},{"t":31.38,"h":148,"v":0.07},{"t":31.38,"h":139,"v":0.06},{"t":31.38,"h":130,"v":0.05},{"t":31.38,"h":121,"v":0.06},{"t":31.38,"h":112,"v":0.07},{"t":31.38,"h":103,"v":0.06},{"t":31.38,"h":94,"v":0.05},{"t":31.38,"h":85,"v":0.06},{"t":31.38,"h":76,"v":0.05},{"t":31.38,"h":67,"v":0.06},{"t":31.38,"h":58,"v":0.05},{"t":31.38,"h":49,"v":0.04},{"t":31.38,"h":40,"v":0.05},{"t":31.38,"h":31,"v":0.04},{"t":31.38,"h":22,"v":0.05},{"t":31.38,"h":13,"v":0.04},{"t":31.38,"h":4,"v":0.04},
      {"t":31.48,"h":165,"v":0.04},{"t":31.48,"h":156,"v":0.05},{"t":31.48,"h":147,"v":0.04},{"t":31.48,"h":138,"v":0.05},{"t":31.48,"h":129,"v":0.06},{"t":31.48,"h":120,"v":0.05},{"t":31.48,"h":111,"v":0.04},{"t":31.48,"h":102,"v":0.05},{"t":31.48,"h":93,"v":0.06},{"t":31.48,"h":84,"v":0.08},{"t":31.48,"h":75,"v":0.11},{"t":31.48,"h":66,"v":0.12},{"t":31.48,"h":57,"v":0.08},{"t":31.48,"h":48,"v":0.05},
      {"t":31.62,"h":106,"v":0.06},{"t":31.62,"h":97,"v":0.05},{"t":31.62,"h":88,"v":0.06},{"t":31.62,"h":79,"v":0.07},{"t":31.62,"h":70,"v":0.06},{"t":31.62,"h":61,"v":0.05},{"t":31.62,"h":52,"v":0.06},{"t":31.62,"h":43,"v":0.05},{"t":31.62,"h":34,"v":0.06},{"t":31.62,"h":25,"v":0.05},{"t":31.62,"h":16,"v":0.04},{"t":31.62,"h":7,"v":0.04},
      {"t":31.76,"h":161,"v":0.04},{"t":31.76,"h":152,"v":0.05},{"t":31.76,"h":143,"v":0.06},{"t":31.76,"h":134,"v":0.05},{"t":31.76,"h":125,"v":0.06},{"t":31.76,"h":116,"v":0.07},{"t":31.76,"h":107,"v":0.06},{"t":31.76,"h":98,"v":0.08},{"t":31.76,"h":89,"v":0.09},{"t":31.76,"h":80,"v":0.07},{"t":31.76,"h":71,"v":0.06},{"t":31.76,"h":62,"v":0.05},{"t":31.76,"h":53,"v":0.06},{"t":31.76,"h":44,"v":0.05},{"t":31.76,"h":35,"v":0.06},{"t":31.76,"h":26,"v":0.05},{"t":31.76,"h":17,"v":0.04},{"t":31.76,"h":8,"v":0.04},
      {"t":31.87,"h":147,"v":0.05},{"t":31.87,"h":138,"v":0.04},{"t":31.87,"h":129,"v":0.05},{"t":31.87,"h":120,"v":0.04},{"t":31.87,"h":111,"v":0.05},{"t":31.87,"h":103,"v":0.04},
      {"t":32.0,"h":219,"v":0.03},{"t":32.0,"h":210,"v":0.06},{"t":32.0,"h":201,"v":0.1},{"t":32.0,"h":192,"v":0.12},{"t":32.0,"h":183,"v":0.13},{"t":32.0,"h":174,"v":0.12},{"t":32.0,"h":165,"v":0.1},{"t":32.0,"h":156,"v":0.11},{"t":32.0,"h":147,"v":0.08},{"t":32.0,"h":138,"v":0.07},{"t":32.0,"h":129,"v":0.06},
      {"t":32.12,"h":153,"v":0.04},{"t":32.12,"h":144,"v":0.04},{"t":32.12,"h":135,"v":0.05},{"t":32.12,"h":126,"v":0.04},{"t":32.12,"h":117,"v":0.05},{"t":32.12,"h":108,"v":0.04},{"t":32.12,"h":99,"v":0.04},
      {"t":32.24,"h":141,"v":0.05},{"t":32.24,"h":132,"v":0.06},{"t":32.24,"h":123,"v":0.05},{"t":32.24,"h":114,"v":0.06},{"t":32.24,"h":105,"v":0.07},{"t":32.24,"h":96,"v":0.06},{"t":32.24,"h":87,"v":0.08},{"t":32.24,"h":78,"v":0.09},{"t":32.24,"h":69,"v":0.1},{"t":32.24,"h":60,"v":0.09},{"t":32.24,"h":51,"v":0.08},{"t":32.24,"h":42,"v":0.1},{"t":32.24,"h":33,"v":0.07},{"t":32.24,"h":24,"v":0.06},{"t":32.24,"h":15,"v":0.05},{"t":32.24,"h":6,"v":0.04},
      {"t":32.42,"h":169,"v":0.04},{"t":32.42,"h":160,"v":0.05},{"t":32.42,"h":151,"v":0.05},{"t":32.42,"h":142,"v":0.06},
      {"t":32.48,"h":137,"v":0.06},{"t":32.52,"h":138,"v":0.05},{"t":32.56,"h":136,"v":0.06},{"t":32.6,"h":138,"v":0.05},{"t":32.64,"h":136,"v":0.06},{"t":32.68,"h":137,"v":0.06},{"t":32.72,"h":135,"v":0.05},{"t":32.76,"h":136,"v":0.06},{"t":32.8,"h":134,"v":0.05},{"t":32.84,"h":135,"v":0.06},
      {"t":32.9,"h":125,"v":0.06},{"t":32.9,"h":116,"v":0.05},{"t":32.9,"h":107,"v":0.06},{"t":32.9,"h":98,"v":0.05},{"t":32.9,"h":89,"v":0.06},{"t":32.9,"h":83,"v":0.05},
      {"t":33.28,"h":145,"v":0.06},{"t":33.28,"h":136,"v":0.07},{"t":33.28,"h":127,"v":0.06},{"t":33.28,"h":118,"v":0.07},{"t":33.28,"h":109,"v":0.08},{"t":33.28,"h":100,"v":0.07},{"t":33.28,"h":91,"v":0.06},{"t":33.28,"h":82,"v":0.07},{"t":33.28,"h":73,"v":0.06},{"t":33.28,"h":64,"v":0.07},{"t":33.28,"h":55,"v":0.06},{"t":33.28,"h":46,"v":0.05},{"t":33.28,"h":37,"v":0.06},{"t":33.28,"h":28,"v":0.05},{"t":33.28,"h":19,"v":0.04},{"t":33.28,"h":10,"v":0.04},
      {"t":33.49,"h":165,"v":0.03},{"t":33.49,"h":156,"v":0.03},{"t":33.49,"h":147,"v":0.04},
      {"t":33.53,"h":126,"v":0.06},{"t":33.53,"h":117,"v":0.07},{"t":33.53,"h":108,"v":0.06},{"t":33.53,"h":99,"v":0.07},{"t":33.53,"h":90,"v":0.08},{"t":33.53,"h":81,"v":0.07},{"t":33.53,"h":72,"v":0.09},{"t":33.53,"h":63,"v":0.11},{"t":33.53,"h":54,"v":0.08},{"t":33.53,"h":45,"v":0.07},{"t":33.53,"h":36,"v":0.06},{"t":33.53,"h":27,"v":0.05},{"t":33.53,"h":18,"v":0.04},{"t":33.53,"h":9,"v":0.04},
      {"t":33.63,"h":126,"v":0.05},{"t":33.63,"h":117,"v":0.06},{"t":33.63,"h":108,"v":0.05},{"t":33.63,"h":99,"v":0.06},{"t":33.63,"h":90,"v":0.07},{"t":33.63,"h":81,"v":0.06},{"t":33.63,"h":72,"v":0.05},{"t":33.63,"h":63,"v":0.06},{"t":33.63,"h":54,"v":0.07},{"t":33.63,"h":45,"v":0.06},{"t":33.63,"h":36,"v":0.05},{"t":33.63,"h":27,"v":0.04},{"t":33.63,"h":18,"v":0.05},{"t":33.63,"h":9,"v":0.04},
      {"t":33.75,"h":141,"v":0.07},{"t":33.75,"h":132,"v":0.06},{"t":33.75,"h":123,"v":0.07},{"t":33.75,"h":114,"v":0.08},{"t":33.75,"h":105,"v":0.07},{"t":33.75,"h":96,"v":0.06},{"t":33.75,"h":87,"v":0.07},{"t":33.75,"h":78,"v":0.06},{"t":33.75,"h":69,"v":0.05},{"t":33.75,"h":60,"v":0.06},{"t":33.75,"h":51,"v":0.05},{"t":33.75,"h":42,"v":0.06},{"t":33.75,"h":33,"v":0.05},
      {"t":33.9,"h":106,"v":0.03},{"t":33.9,"h":97,"v":0.04},{"t":33.9,"h":88,"v":0.03},{"t":33.9,"h":79,"v":0.04},{"t":33.9,"h":70,"v":0.03},{"t":33.9,"h":61,"v":0.04},{"t":33.9,"h":52,"v":0.03},{"t":33.9,"h":43,"v":0.04},{"t":33.9,"h":34,"v":0.03},{"t":33.9,"h":25,"v":0.04},{"t":33.9,"h":16,"v":0.03},{"t":33.9,"h":9,"v":0.03},
      {"t":34.0,"h":145,"v":0.07},{"t":34.0,"h":136,"v":0.06},{"t":34.0,"h":127,"v":0.07},{"t":34.0,"h":118,"v":0.08},{"t":34.0,"h":109,"v":0.07},{"t":34.0,"h":100,"v":0.06},{"t":34.0,"h":91,"v":0.07},{"t":34.0,"h":82,"v":0.06},{"t":34.0,"h":73,"v":0.05},{"t":34.0,"h":64,"v":0.06},{"t":34.0,"h":55,"v":0.05},
      {"t":34.15,"h":153,"v":0.06},{"t":34.15,"h":144,"v":0.05},{"t":34.15,"h":135,"v":0.06},{"t":34.15,"h":126,"v":0.07},{"t":34.15,"h":117,"v":0.06},{"t":34.15,"h":108,"v":0.05},{"t":34.15,"h":99,"v":0.06},{"t":34.15,"h":90,"v":0.05},{"t":34.15,"h":81,"v":0.04},{"t":34.15,"h":72,"v":0.05},
      {"t":34.27,"h":110,"v":0.05},{"t":34.27,"h":101,"v":0.04},{"t":34.27,"h":92,"v":0.05},{"t":34.27,"h":83,"v":0.04},{"t":34.27,"h":74,"v":0.05},{"t":34.27,"h":65,"v":0.04},{"t":34.27,"h":56,"v":0.05},
      {"t":34.35,"h":235,"v":0.07},{"t":34.35,"h":226,"v":0.08},{"t":34.35,"h":217,"v":0.07},{"t":34.35,"h":208,"v":0.08},{"t":34.35,"h":199,"v":0.09},{"t":34.35,"h":190,"v":0.08},{"t":34.35,"h":181,"v":0.07},{"t":34.35,"h":172,"v":0.08},{"t":34.35,"h":163,"v":0.07},{"t":34.35,"h":154,"v":0.06},{"t":34.35,"h":145,"v":0.07},{"t":34.35,"h":136,"v":0.06},{"t":34.35,"h":127,"v":0.07},{"t":34.35,"h":118,"v":0.06},{"t":34.35,"h":109,"v":0.05},{"t":34.35,"h":100,"v":0.06},{"t":34.35,"h":91,"v":0.05},
      {"t":34.44,"h":242,"v":0.1},{"t":34.45,"h":248,"v":0.14},{"t":34.47,"h":257,"v":0.16},{"t":34.46,"h":265,"v":0.15},{"t":34.48,"h":272,"v":0.14},{"t":34.5,"h":277,"v":0.13},
      {"t":34.56,"h":235,"v":0.1},{"t":34.56,"h":226,"v":0.11},{"t":34.56,"h":217,"v":0.14},{"t":34.56,"h":208,"v":0.18},{"t":34.56,"h":199,"v":0.12},{"t":34.56,"h":190,"v":0.1},{"t":34.56,"h":181,"v":0.09},{"t":34.56,"h":172,"v":0.1},{"t":34.56,"h":163,"v":0.08},
      {"t":34.68,"h":169,"v":0.14},{"t":34.68,"h":160,"v":0.12},{"t":34.68,"h":151,"v":0.1},{"t":34.68,"h":142,"v":0.11},{"t":34.68,"h":133,"v":0.1},{"t":34.68,"h":124,"v":0.09},{"t":34.68,"h":115,"v":0.1},{"t":34.68,"h":106,"v":0.08},{"t":34.68,"h":97,"v":0.07},{"t":34.68,"h":88,"v":0.06},{"t":34.68,"h":79,"v":0.07},{"t":34.68,"h":70,"v":0.05}
    ],
    "labels": [
      {"label": "Stratus", "t": 18.09, "h": 411},
      {"label": "Fog", "t": 31.4, "h": 280}
    ],
    "arrows": [
      {"label": "Stratus", "t": 21.52, "h": 531},
      {"label": "Fog", "t": 30.43, "h": 538}
    ]
  },
  "encoding": {
    "x": {
      "field": "t",
      "type": "quantitative",
      "scale": {"domain": [18, 35], "nice": false, "zero": false},
      "axis": {
        "values": [18,19,20,21,22,23,24,25,26,27,28,29,30,31,32,33,34,35],
        "labelExpr": "(datum.value % 24 < 10 ? '0' : '') + (datum.value % 24)",
        "title": "Time (UTC, 1 − 2 Dec 2016 )",
        "titleFontStyle": "italic",
        "titleFontWeight": "normal",
        "titleFontSize": 16,
        "titlePadding": 3,
        "labelFontSize": 17,
        "labelPadding": 2,
        "tickSize": 5,
        "labelFlush": false
      }
    },
    "y": {
      "field": "h",
      "type": "quantitative",
      "scale": {"domain": [0, 500], "nice": false},
      "axis": {
        "values": [0,50,100,150,200,250,300,350,400,450,500],
        "title": "Height  (m)",
        "titleFontStyle": "italic",
        "titleFontWeight": "normal",
        "titleFontSize": 16,
        "titlePadding": 6,
        "labelFontSize": 17,
        "labelPadding": 3,
        "tickSize": 5,
        "labelFlush": false
      }
    }
  },
  "layer": [
    {
      "data": {"name": "lwc"},
      "mark": {"type": "point", "shape": "circle", "filled": true, "size": 52, "opacity": 1},
      "encoding": {
        "color": {
          "field": "v",
          "type": "quantitative",
          "scale": {
            "type": "linear",
            "domain": [0.001, 0.063375, 0.12575, 0.188125, 0.2505, 0.312875, 0.37525, 0.437625, 0.5],
            "range": ["#00007f", "#0000ff", "#007fff", "#00ffff", "#7fff7f", "#ffff00", "#ff7f00", "#ff0000", "#7f0000"]
          },
          "legend": {
            "orient": "none",
            "legendX": 854,
            "legendY": 0,
            "direction": "vertical",
            "gradientLength": 429,
            "gradientThickness": 26,
            "gradientStrokeColor": "#444444",
            "gradientStrokeWidth": 1,
            "values": [0.001, 0.04, 0.08, 0.12, 0.16, 0.2, 0.24, 0.28, 0.32, 0.36, 0.4, 0.44, 0.48],
            "labelExpr": "datum.value < 0.01 ? '0.001' : format(datum.value, '.2f')",
            "labelFontSize": 16,
            "labelFont": "DejaVu Sans",
            "labelColor": "#222222",
            "labelOffset": 8,
            "labelOverlap": false,
            "title": "LWC (g/m³)",
            "titleOrient": "bottom",
            "titleAnchor": "start",
            "titleFont": "DejaVu Sans",
            "titleFontStyle": "italic",
            "titleFontWeight": "normal",
            "titleFontSize": 15,
            "titleColor": "#222222",
            "titlePadding": 20
          }
        }
      }
    },
    {
      "data": {"name": "topSolid"},
      "mark": {"type": "line", "color": "#6e6e6e", "strokeWidth": 0.9},
      "encoding": {"detail": {"field": "s"}}
    },
    {
      "data": {"name": "topDash"},
      "mark": {"type": "line", "color": "#1a1a1a", "strokeWidth": 1.4, "strokeDash": [4, 2.5]},
      "encoding": {"detail": {"field": "s"}}
    },
    {
      "data": {"name": "ground"},
      "mark": {"type": "line", "color": "#111111", "strokeWidth": 2.8, "strokeDash": [2, 1.5]},
      "encoding": {}
    },
    {
      "data": {"name": "cbh"},
      "mark": {"type": "point", "filled": true, "size": 64, "color": "#000000", "opacity": 1},
      "encoding": {
        "shape": {
          "datum": "CBH",
          "type": "nominal",
          "scale": {"range": ["diamond"]},
          "legend": {
            "orient": "none",
            "legendX": 713,
            "legendY": 8,
            "title": null,
            "padding": 6,
            "fillColor": "#ffffff",
            "strokeColor": "#d4d4d4",
            "cornerRadius": 3,
            "symbolSize": 40,
            "symbolFillColor": "#000000",
            "symbolStrokeColor": "#000000",
            "symbolOffset": 10,
            "labelOffset": 22,
            "labelFontSize": 17,
            "labelFont": "DejaVu Sans",
            "labelColor": "#222222"
          }
        }
      }
    },
    {
      "data": {"name": "labels"},
      "mark": {"type": "text", "font": "Liberation Serif", "fontSize": 42, "fontWeight": "bold", "align": "left", "baseline": "alphabetic"},
      "encoding": {
        "text": {"field": "label"},
        "fill": {"field": "label", "type": "nominal", "scale": {"domain": ["Stratus", "Fog"], "range": ["#7030a0", "#ebb000"]}, "legend": null}
      }
    },
    {
      "data": {"name": "arrows"},
      "mark": {"type": "point", "shape": "M-1,-1L1,-1L0,1Z", "filled": true, "size": 3136, "opacity": 1, "strokeWidth": 0},
      "encoding": {
        "fill": {"field": "label", "type": "nominal", "scale": {"domain": ["Stratus", "Fog"], "range": ["#7030a0", "#ebb000"]}, "legend": null}
      }
    }
  ]
}
